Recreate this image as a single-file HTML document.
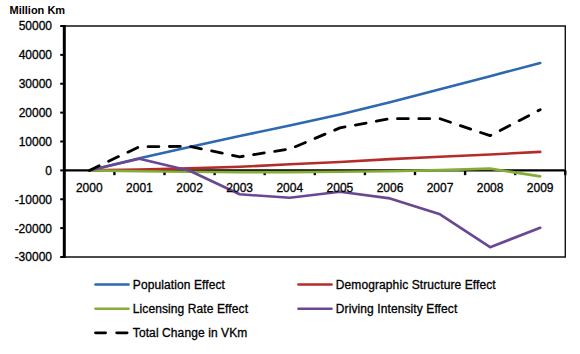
<!DOCTYPE html>
<html><head><meta charset="utf-8"><style>
html,body{margin:0;padding:0;background:#fff;width:580px;height:354px;overflow:hidden}
svg{display:block}
.t{font-family:"Liberation Sans",sans-serif;font-size:12px;fill:#000;stroke:#000;stroke-width:0.3px}
.b{font-family:"Liberation Sans",sans-serif;font-size:11px;font-weight:bold;fill:#000}
</style></head><body>
<svg width="580" height="354" viewBox="0 0 580 354">
<path d="M64.3,26 H565.3 V257 H64.3" fill="none" stroke="#111" stroke-width="1.4"/>
<line x1="60.2" y1="26.00" x2="64.3" y2="26.00" stroke="#000" stroke-width="2"/>
<line x1="60.2" y1="54.88" x2="64.3" y2="54.88" stroke="#000" stroke-width="2"/>
<line x1="60.2" y1="83.75" x2="64.3" y2="83.75" stroke="#000" stroke-width="2"/>
<line x1="60.2" y1="112.62" x2="64.3" y2="112.62" stroke="#000" stroke-width="2"/>
<line x1="60.2" y1="141.50" x2="64.3" y2="141.50" stroke="#000" stroke-width="2"/>
<line x1="60.2" y1="170.38" x2="64.3" y2="170.38" stroke="#000" stroke-width="2"/>
<line x1="60.2" y1="199.25" x2="64.3" y2="199.25" stroke="#000" stroke-width="2"/>
<line x1="60.2" y1="228.12" x2="64.3" y2="228.12" stroke="#000" stroke-width="2"/>
<line x1="60.2" y1="257.00" x2="64.3" y2="257.00" stroke="#000" stroke-width="2"/>
<line x1="64.3" y1="170.38" x2="565.3" y2="170.38" stroke="#000" stroke-width="2.3"/>
<line x1="114.4" y1="170.38" x2="114.4" y2="175.18" stroke="#000" stroke-width="2.4"/>
<line x1="164.5" y1="170.38" x2="164.5" y2="175.18" stroke="#000" stroke-width="2.4"/>
<line x1="214.60000000000002" y1="170.38" x2="214.60000000000002" y2="175.18" stroke="#000" stroke-width="2.4"/>
<line x1="264.7" y1="170.38" x2="264.7" y2="175.18" stroke="#000" stroke-width="2.4"/>
<line x1="314.8" y1="170.38" x2="314.8" y2="175.18" stroke="#000" stroke-width="2.4"/>
<line x1="364.90000000000003" y1="170.38" x2="364.90000000000003" y2="175.18" stroke="#000" stroke-width="2.4"/>
<line x1="415.0" y1="170.38" x2="415.0" y2="175.18" stroke="#000" stroke-width="2.4"/>
<line x1="465.1" y1="170.38" x2="465.1" y2="175.18" stroke="#000" stroke-width="2.4"/>
<line x1="515.2" y1="170.38" x2="515.2" y2="175.18" stroke="#000" stroke-width="2.4"/>
<line x1="565.3" y1="170.38" x2="565.3" y2="175.18" stroke="#000" stroke-width="2.4"/>
<line x1="64.3" y1="25" x2="64.3" y2="258" stroke="#000" stroke-width="3"/>
<polyline points="89.3,170.4 139.4,158.2 189.6,147.0 239.7,136.0 289.8,125.6 339.9,114.6 390.0,102.2 440.0,89.2 490.1,76.2 540.2,63.0" fill="none" stroke="#2D68B0" stroke-width="2.6" stroke-linejoin="round" stroke-linecap="round"/>
<polyline points="89.3,170.4 139.4,169.5 189.6,168.4 239.7,166.8 289.8,164.3 339.9,162.0 390.0,159.1 440.0,156.8 490.1,154.5 540.2,151.9" fill="none" stroke="#B42D2A" stroke-width="2.6" stroke-linejoin="round" stroke-linecap="round"/>
<polyline points="89.3,170.4 139.4,171.2 189.6,171.8 239.7,172.1 289.8,172.1 339.9,171.8 390.0,171.2 440.0,170.1 490.1,168.6 540.2,176.4" fill="none" stroke="#86AC36" stroke-width="2.6" stroke-linejoin="round" stroke-linecap="round"/>
<polyline points="89.3,170.4 139.4,158.8 189.6,170.7 239.7,194.3 289.8,197.8 339.9,191.7 390.0,198.4 440.0,214.3 490.1,247.2 540.2,227.8" fill="none" stroke="#6A4792" stroke-width="2.6" stroke-linejoin="round" stroke-linecap="round"/>
<polyline points="89.3,170.4 139.4,146.7 189.6,146.4 239.7,156.8 289.8,149.0 339.9,127.9 390.0,118.7 440.0,118.7 490.1,135.7 540.2,109.7" fill="none" stroke="#000" stroke-width="2.8" stroke-dasharray="10.9,10.45" stroke-linecap="round" stroke-linejoin="round"/>
<text x="52" y="30.4" text-anchor="end" class="t">50000</text>
<text x="52" y="59.3" text-anchor="end" class="t">40000</text>
<text x="52" y="88.2" text-anchor="end" class="t">30000</text>
<text x="52" y="117.0" text-anchor="end" class="t">20000</text>
<text x="52" y="145.9" text-anchor="end" class="t">10000</text>
<text x="52" y="174.8" text-anchor="end" class="t">0</text>
<text x="52" y="203.7" text-anchor="end" class="t">-10000</text>
<text x="52" y="232.5" text-anchor="end" class="t">-20000</text>
<text x="52" y="261.4" text-anchor="end" class="t">-30000</text>
<text x="89.3" y="192" text-anchor="middle" class="t">2000</text>
<text x="139.4" y="192" text-anchor="middle" class="t">2001</text>
<text x="189.6" y="192" text-anchor="middle" class="t">2002</text>
<text x="239.7" y="192" text-anchor="middle" class="t">2003</text>
<text x="289.8" y="192" text-anchor="middle" class="t">2004</text>
<text x="339.9" y="192" text-anchor="middle" class="t">2005</text>
<text x="390.0" y="192" text-anchor="middle" class="t">2006</text>
<text x="440.0" y="192" text-anchor="middle" class="t">2007</text>
<text x="490.1" y="192" text-anchor="middle" class="t">2008</text>
<text x="540.2" y="192" text-anchor="middle" class="t">2009</text>
<text x="9.5" y="13.6" class="b">Million Km</text>
<line x1="95.5" y1="284.5" x2="128.5" y2="284.5" stroke="#2D68B0" stroke-width="2.6" stroke-linecap="round"/>
<text x="132.8" y="288.7" class="t" letter-spacing="0.1">Population Effect</text>
<line x1="298.5" y1="284.5" x2="331.5" y2="284.5" stroke="#B42D2A" stroke-width="2.6" stroke-linecap="round"/>
<text x="335.8" y="288.7" class="t" letter-spacing="0.1">Demographic Structure Effect</text>
<line x1="95.5" y1="308.7" x2="128.5" y2="308.7" stroke="#86AC36" stroke-width="2.6" stroke-linecap="round"/>
<text x="132.8" y="312.9" class="t" letter-spacing="0.1">Licensing Rate Effect</text>
<line x1="298.5" y1="308.7" x2="331.5" y2="308.7" stroke="#6A4792" stroke-width="2.6" stroke-linecap="round"/>
<text x="335.8" y="312.9" class="t" letter-spacing="0.1">Driving Intensity Effect</text>
<line x1="95.5" y1="332.8" x2="105.6" y2="332.8" stroke="#000" stroke-width="2.8" stroke-linecap="round"/>
<line x1="116.7" y1="332.8" x2="127.1" y2="332.8" stroke="#000" stroke-width="2.8" stroke-linecap="round"/>
<text x="132.8" y="337.0" class="t" letter-spacing="0.1">Total Change in VKm</text>
</svg>
</body></html>
